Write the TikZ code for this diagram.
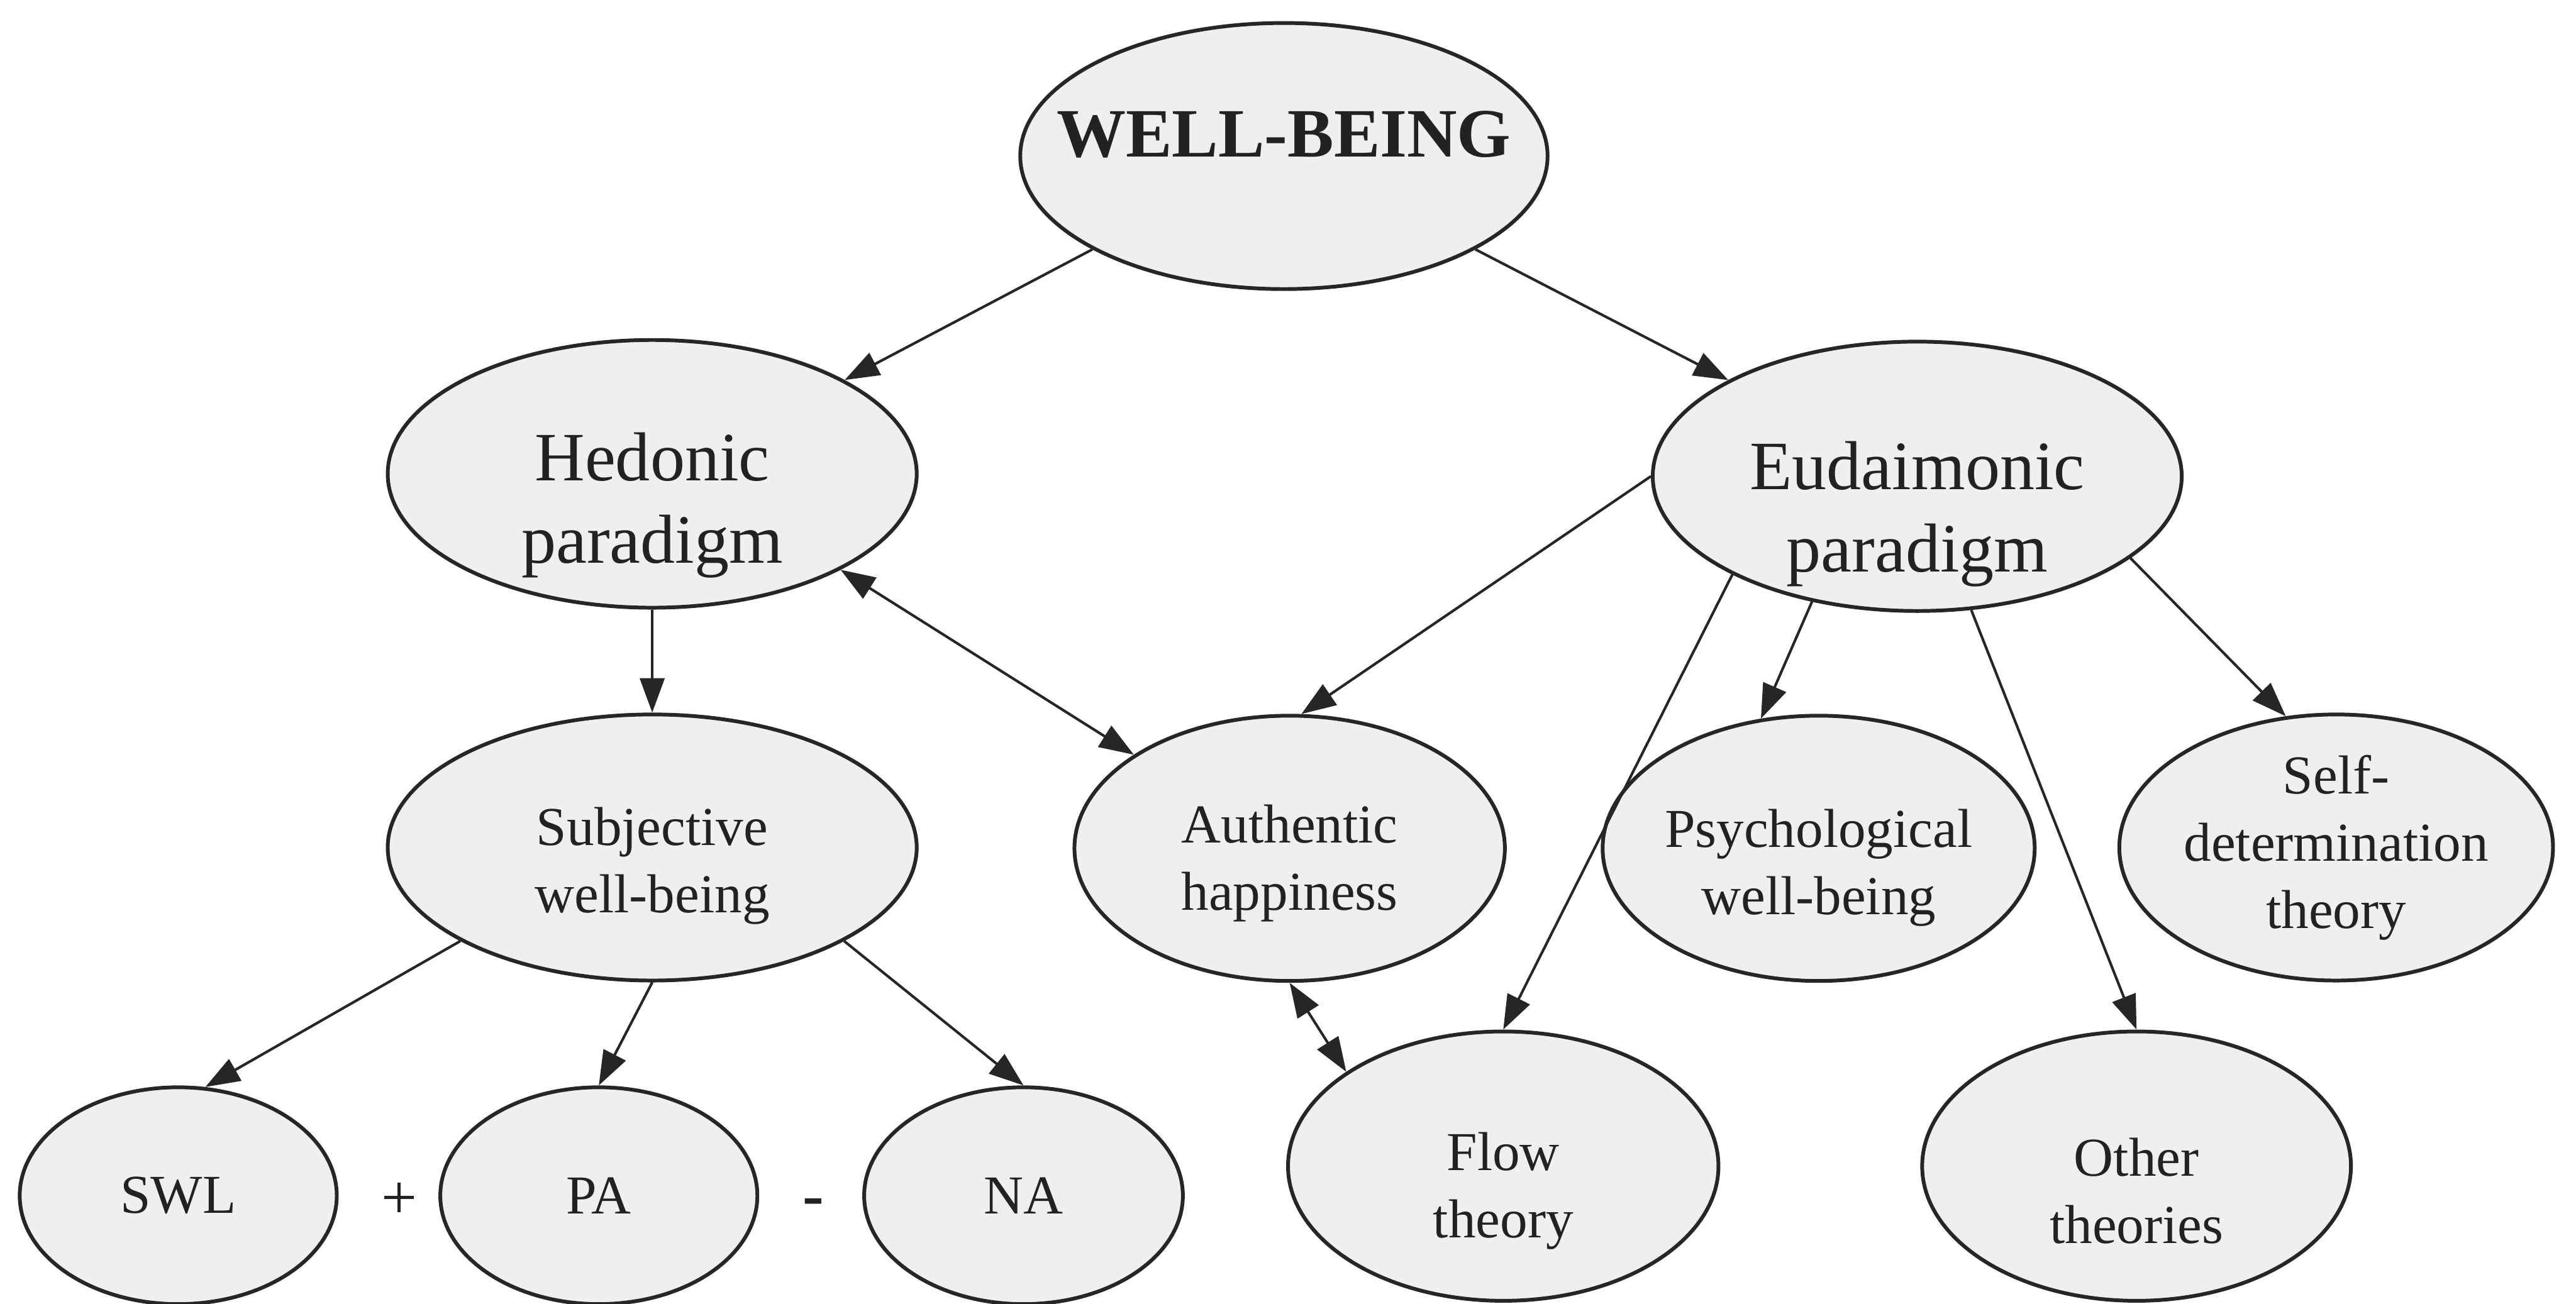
\documentclass[tikz,border=0pt]{standalone}
\usepackage{fontspec}
\setmainfont{Liberation Serif}
\usetikzlibrary{shapes.geometric, arrows.meta}

\begin{document}
\begin{tikzpicture}[
    bubble/.style={ellipse, draw=borderColour, fill=fillColour, line width=1.3pt, inner sep=0pt},
    bigtext/.style={align=center, text=textColour, font=\fontsize{24}{28.5}\selectfont},
    smalltext/.style={align=center, text=textColour, font=\fontsize{19}{23.3}\selectfont},
    link/.style={draw=borderColour, line width=0.9pt, -{Triangle[length=4.2mm, width=3mm]}},
    twoway/.style={link, {Triangle[length=4.2mm, width=3mm]}-{Triangle[length=4.2mm, width=3mm]}}
]
    % Define colours
    \definecolor{borderColour}{HTML}{262626}
    \definecolor{fillColour}{HTML}{EFEFEF}
    \definecolor{textColour}{HTML}{222222}

    % Fix the page size
    \useasboundingbox (0,0) rectangle (31.36,-15.875);

    % Top concept
    \node[bubble, minimum width=6.42cm, minimum height=3.24cm,
          label={[bigtext, yshift=0.26cm]center:{\textbf{WELL-BEING}}}] (wb) at (15.63,-1.90) {};

    % The two paradigms
    \node[bubble, minimum width=6.44cm, minimum height=3.26cm,
          label={[bigtext, yshift=-0.38cm]center:{Hedonic\\paradigm}}] (hed) at (7.94,-5.77) {};
    \node[bubble, minimum width=6.44cm, minimum height=3.28cm,
          label={[bigtext, yshift=-0.46cm]center:{Eudaimonic\\paradigm}}] (eud) at (23.34,-5.80) {};

    % Middle row
    \node[bubble, minimum width=6.44cm, minimum height=3.24cm,
          label={[smalltext, yshift=-0.22cm]center:{Subjective\\well-being}}] (swb) at (7.94,-10.32) {};
    \node[bubble, minimum width=5.24cm, minimum height=3.23cm,
          label={[smalltext, yshift=-0.18cm]center:{Authentic\\happiness}}] (auth) at (15.70,-10.33) {};
    \node[bubble, minimum width=5.26cm, minimum height=3.23cm,
          label={[smalltext, yshift=-0.24cm]center:{Psychological\\well-being}}] (pwb) at (22.14,-10.33) {};
    \node[bubble, minimum width=5.28cm, minimum height=3.24cm,
          label={[smalltext]center:{Self-\\determination\\theory}}] (sdt) at (28.44,-10.32) {};

    % Bottom row
    \node[bubble, minimum width=3.86cm, minimum height=2.64cm,
          label={[smalltext]center:SWL}] (swl) at (2.17,-14.56) {};
    \node[bubble, minimum width=3.86cm, minimum height=2.64cm,
          label={[smalltext]center:PA}] (pa) at (7.29,-14.56) {};
    \node[bubble, minimum width=3.88cm, minimum height=2.64cm,
          label={[smalltext]center:NA}] (na) at (12.46,-14.56) {};
    \node[bubble, minimum width=5.24cm, minimum height=3.28cm,
          label={[smalltext, yshift=-0.3cm]center:{Flow\\theory}}] (flow) at (18.30,-14.20) {};
    \node[bubble, minimum width=5.22cm, minimum height=3.28cm,
          label={[smalltext, yshift=-0.3cm]center:{Other\\theories}}] (oth) at (26.01,-14.20) {};

    % Signs between the SWB parts
    \node[smalltext, font=\fontsize{22}{26}\selectfont] (plus) at (4.86,-14.62) {+};
    \node[smalltext, font=\fontsize{22}{26}\selectfont\bfseries] (minus) at (9.90,-14.70) {-};

    % Connectors
    \draw[link] (wb.206) -- (hed.26);
    \draw[link] (wb.334) -- (eud.153);
    \draw[twoway] (hed.333) -- (auth.149);
    \draw[link] (hed.south) -- (swb.north);
    \draw[link] (eud.west) -- (auth.85);
    \draw[link] (eud.230) -- (pwb.114);
    \draw[link] (eud.208) -- (flow.north);
    \draw[link] (eud.292) -- (oth.north);
    \draw[link] (eud.339) -- (sdt.111);
    \draw[link] (swb.206) -- (swl.76);
    \draw[link] (swb.south) -- (pa.north);
    \draw[link] (swb.334) -- (na.north);
    \draw[twoway] (auth.south) -- (flow.149);

\end{tikzpicture}
\end{document}
